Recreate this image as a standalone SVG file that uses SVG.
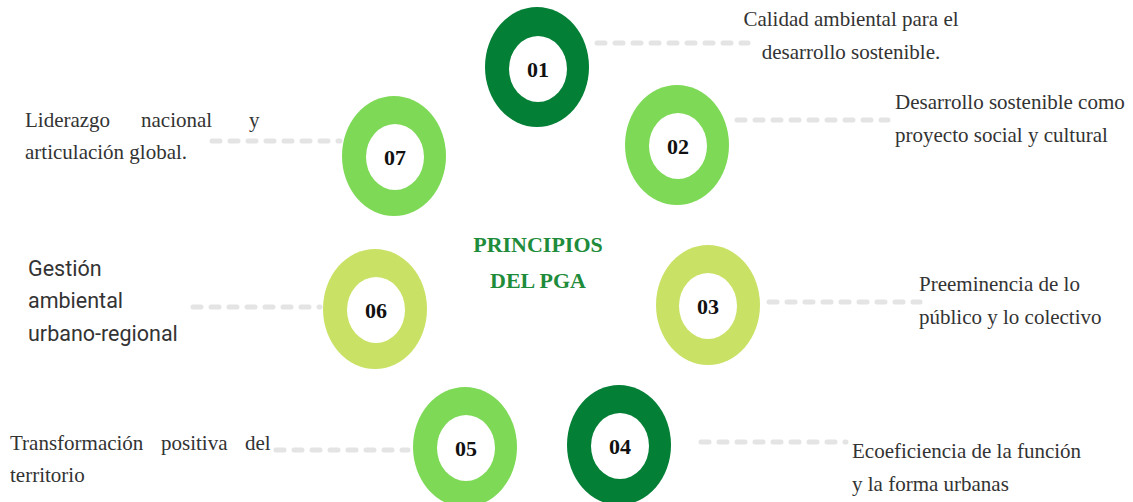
<svg xmlns="http://www.w3.org/2000/svg" width="1133" height="502" viewBox="0 0 1133 502">
<style>
.dk{fill:#037F36}.md{fill:#7ED957}.yl{fill:#C9E265}
.in{fill:#fff}
.num{font-family:"Liberation Serif",serif;font-weight:bold;font-size:22px;fill:#111;text-anchor:middle}
.lbl{font-family:"Liberation Serif",serif;font-size:21px;fill:#333}
.sans{font-family:Roboto,"Liberation Sans",sans-serif;font-size:21.5px;fill:#333}
.ttl{font-family:"Liberation Serif",serif;font-weight:bold;font-size:22px;fill:#1E8C3A;text-anchor:middle}
.dash{stroke:#E4E4E4;stroke-width:5;stroke-dasharray:8 10;stroke-linecap:round;fill:none}
</style>
<rect width="1133" height="502" fill="#fff"/>
<g id="connectors">
<line class="dash" x1="597" y1="43" x2="748" y2="43"/>
<line class="dash" x1="737" y1="120" x2="888" y2="120"/>
<line class="dash" x1="769" y1="302" x2="920" y2="302"/>
<line class="dash" x1="701" y1="442" x2="846" y2="442"/>
<line class="dash" x1="276" y1="450" x2="408" y2="450"/>
<line class="dash" x1="193" y1="307" x2="320" y2="307"/>
<line class="dash" x1="212" y1="141" x2="340" y2="141"/>
</g>
<g id="title">
<text class="ttl" x="538" y="252">PRINCIPIOS</text>
<text class="ttl" x="538" y="288">DEL PGA</text>
</g>
<g id="node01">
<ellipse class="dk" cx="537" cy="67" rx="52" ry="60"/>
<ellipse class="in" cx="538" cy="69" rx="29" ry="33"/>
<text class="num" x="538" y="77">01</text>
<text class="lbl" x="851" y="26" text-anchor="middle">Calidad ambiental para el</text>
<text class="lbl" x="851" y="59" text-anchor="middle">desarrollo sostenible.</text>
</g>
<g id="node02">
<ellipse class="md" cx="677" cy="145" rx="52" ry="60"/>
<ellipse class="in" cx="678" cy="146" rx="29" ry="33"/>
<text class="num" x="678" y="154">02</text>
<text class="lbl" x="895" y="109">Desarrollo sostenible como</text>
<text class="lbl" x="895" y="142">proyecto social y cultural</text>
</g>
<g id="node03">
<ellipse class="yl" cx="708" cy="305" rx="52" ry="60"/>
<ellipse class="in" cx="708" cy="306" rx="29" ry="33"/>
<text class="num" x="708" y="314">03</text>
<text class="lbl" x="919" y="291">Preeminencia de lo</text>
<text class="lbl" x="919" y="324">público y lo colectivo</text>
</g>
<g id="node04">
<ellipse class="dk" cx="619" cy="445" rx="52" ry="60"/>
<ellipse class="in" cx="620" cy="446" rx="29" ry="33"/>
<text class="num" x="620" y="454">04</text>
<text class="lbl" x="852" y="458">Ecoeficiencia de la función</text>
<text class="lbl" x="852" y="491">y la forma urbanas</text>
</g>
<g id="node05">
<ellipse class="md" cx="465" cy="447" rx="52" ry="60"/>
<ellipse class="in" cx="466" cy="448" rx="29" ry="33"/>
<text class="num" x="466" y="456">05</text>
<text class="lbl" y="450"><tspan x="10">Transformación</tspan><tspan x="161">positiva</tspan><tspan x="245">del</tspan></text>
<text class="lbl" x="10" y="482">territorio</text>
</g>
<g id="node06">
<ellipse class="yl" cx="375" cy="309" rx="52" ry="60"/>
<ellipse class="in" cx="376" cy="310" rx="29" ry="33"/>
<text class="num" x="376" y="318">06</text>
<text class="sans" x="28" y="276">Gestión</text>
<text class="sans" x="28" y="308">ambiental</text>
<text class="sans" x="28" y="341">urbano-regional</text>
</g>
<g id="node07">
<ellipse class="md" cx="394" cy="156" rx="52" ry="60"/>
<ellipse class="in" cx="395" cy="157" rx="29" ry="33"/>
<text class="num" x="395" y="165">07</text>
<text class="lbl" y="127"><tspan x="25">Liderazgo</tspan><tspan x="141">nacional</tspan><tspan x="249">y</tspan></text>
<text class="lbl" x="25" y="159">articulación global.</text>
</g>
</svg>
